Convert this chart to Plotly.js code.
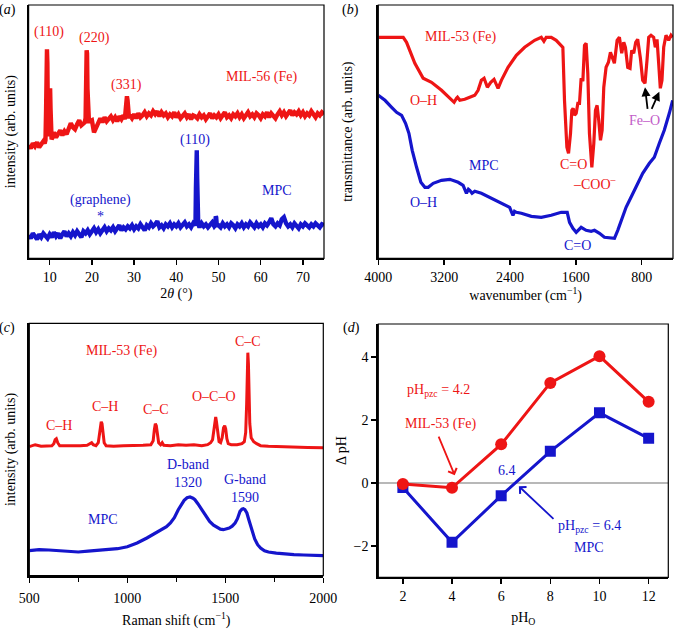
<!DOCTYPE html>
<html>
<head>
<meta charset="utf-8">
<script src="https://cdn.plot.ly/plotly-3.0.1.min.js"></script>
<style>html,body{margin:0;padding:0;background:#fff;}#chart{width:675px;height:629px;}</style>
</head>
<body>
<div id="chart"></div>
<script>
// ---------- DATA ----------
// (a) XRD, base grid from 5° to 75° every 0.5°
const xrdStart = 5, xrdStep = 0.5;
const xrdRedBase = [
 113,110,115,112,116,111,114,117,115,114,
 120,122,126,121,125,128,123,127,124,129,
 135,131,129,134,138,133,136,134,139,137,
 138,126,131,137,140,136,141,137,139,142,
 138,141,137,142,139,143,140,138,143,140,
 144,140,145,141,143,146,142,145,143,147,
 144,147,142,146,143,145,141,144,142,146,
 141,144,140,143,145,141,144,139,143,142,
 140,144,141,143,139,142,145,140,143,141,
 144,140,143,146,141,143,140,144,142,145,
 141,144,140,143,146,142,144,141,145,143,
 140,144,142,146,141,145,143,140,144,147,
 143,146,142,145,148,143,146,144,147,143,
 146,142,145,143,147,144,141,145,143,146,
 144];
const xrdRedPeaks = [
 [[8.8,115],[9.0,118],[9.15,150],[9.25,200],[9.35,209],[9.45,195],[9.55,150],[9.7,122],[9.85,128],[10.0,160],[10.1,170],[10.2,150],[10.3,128],[10.45,119],[10.7,121]],
 [[18.3,136],[18.5,140],[18.65,185],[18.75,208],[18.85,205],[18.95,170],[19.1,141],[19.3,137]],
 [[27.8,139],[28.0,148],[28.15,160],[28.3,162],[28.45,158],[28.6,146],[28.8,140]]
];
const xrdBlueBase = [
 23,20,25,22,19,24,21,25,22,20,
 24,21,26,22,25,20,24,27,22,25,
 22,26,23,27,24,21,27,25,28,24,
 27,30,26,29,25,28,31,27,30,28,
 31,27,30,33,28,31,29,32,30,33,
 29,32,30,34,31,28,33,31,35,32,
 34,37,31,33,30,34,32,35,31,34,
 32,35,31,34,36,32,34,31,35,33,
 34,31,35,32,34,31,33,36,32,40,
 33,31,35,32,34,31,35,33,30,34,
 32,35,31,34,32,36,33,31,35,32,
 34,31,35,33,36,40,34,32,35,33,
 39,41,35,32,34,31,35,33,30,34,
 32,35,33,31,34,32,35,33,31,34,
 33];
const xrdBluePeaks = [
 [[44.4,33],[44.55,36],[44.65,70],[44.75,105],[44.85,108],[44.95,80],[45.05,40],[45.2,34]],
 [[49.2,33],[49.35,42],[49.45,41],[49.6,33]]
];

// (b) FTIR [wavenumber, transmittance]
const ftirRed = [[4000,221],[3697,221],[3657,216],[3556,195],[3455,180],[3354,176],[3232,168],[3131,160],[3079,156],[3050,160],[3038,161],[3010,158],[2950,159],[2889,161],[2828,163],[2788,168],[2748,178],[2715,180],[2675,171],[2634,176],[2594,179],[2545,170],[2505,178],[2424,191],[2323,203],[2222,211],[2101,218],[2020,221],[1988,217],[1960,221],[1899,221],[1839,218],[1758,211],[1738,158],[1709,111],[1689,105],[1665,125],[1649,148],[1633,150],[1616,143],[1596,145],[1576,155],[1556,155],[1536,180],[1515,177],[1495,213],[1475,215],[1455,185],[1435,125],[1406,91],[1382,115],[1362,148],[1342,153],[1322,138],[1301,118],[1281,128],[1261,171],[1233,191],[1204,196],[1180,206],[1152,200],[1132,195],[1099,218],[1071,221],[1043,205],[1018,216],[998,211],[970,191],[942,190],[922,208],[897,205],[873,216],[849,219],[816,200],[788,178],[760,175],[736,198],[715,221],[687,223],[655,221],[635,211],[614,219],[594,195],[574,170],[554,178],[533,211],[505,223],[473,218],[444,223],[424,221]];
const ftirBlue = [[4000,163],[3919,158],[3838,151],[3778,146],[3717,143],[3669,135],[3628,125],[3588,108],[3535,91],[3483,76],[3434,71],[3394,71],[3333,75],[3232,78],[3131,79],[3030,76],[2970,73],[2940,66],[2929,65],[2905,69],[2889,68],[2861,65],[2828,67],[2748,65],[2626,60],[2505,55],[2404,51],[2380,46],[2364,43],[2345,47],[2323,46],[2263,45],[2141,42],[2020,41],[1899,43],[1778,46],[1705,46],[1677,36],[1636,30],[1596,26],[1536,31],[1475,28],[1414,27],[1374,28],[1313,25],[1253,21],[1172,20],[1131,20],[1091,28],[1051,38],[990,51],[930,61],[869,71],[788,85],[707,95],[647,101],[586,115],[526,128],[465,145],[424,158]];

// (c) Raman [shift, intensity]
const ramanRed = [[500,129],[530,131],[560,129.5],[590,130],[615,130],[625,132],[632,136],[638,137],[645,133],[655,130],[680,130],[720,129.5],[760,130],[795,130.5],[810,132],[818,133],[826,131],[840,130],[852,133],[858,142],[863,151],[867,154],[871,152],[876,141],[882,133],[892,130],[930,129.5],[980,130],[1030,130],[1080,130.5],[1120,131],[1132,135],[1138,146],[1143,152],[1148,150],[1153,140],[1160,133],[1170,131],[1178,133],[1186,130.5],[1220,130],[1260,131],[1300,130.5],[1340,131],[1380,130],[1410,131],[1425,133],[1435,136],[1442,146],[1447,157],[1451,158.7],[1455,154],[1461,142],[1468,134],[1476,133],[1484,138],[1491,148],[1497,150],[1502,147],[1508,137],[1515,132],[1530,131],[1560,131],[1585,132],[1597,134],[1604,143],[1609,172],[1612,205],[1615,223],[1618,212],[1621,180],[1625,152],[1632,138],[1645,134],[1660,132],[1680,130],[1720,129.5],[1780,129],[1850,128.5],[1920,128.2],[2000,128]];
const ramanBlue = [[500,25],[550,26],[600,25.7],[650,25],[700,24.5],[750,23.7],[800,24.5],[850,25.5],[900,26],[950,27],[1000,29],[1050,32.7],[1100,37.7],[1150,43.3],[1180,46.7],[1200,49],[1220,52.7],[1240,58],[1260,66],[1275,71],[1290,75.3],[1305,78],[1320,78.7],[1335,77.5],[1345,76],[1360,72],[1380,66],[1400,60],[1420,54.3],[1440,50.5],[1460,47.7],[1475,46.5],[1490,46],[1505,46.5],[1520,47.7],[1535,49.5],[1550,52.7],[1562,57],[1575,64.3],[1585,66.5],[1592,67],[1600,66],[1610,62.7],[1620,56],[1630,49.3],[1640,42],[1650,36.7],[1665,31],[1680,27.7],[1700,25],[1720,23.7],[1760,22.5],[1800,21.7],[1850,21],[1900,20.7],[1950,20.3],[2000,20]];

// (d) pH drift
const pH0 = [2, 4, 6, 8, 10, 12];
const dpHMIL = [-0.04, -0.16, 1.22, 3.17, 4.02, 2.57];
const dpHMPC = [-0.15, -1.89, -0.41, 1.0, 2.22, 1.41];

// tick labels
const xrdTicks = [10, 20, 30, 40, 50, 60, 70];
const ftirTicks = [4000, 3200, 2400, 1600, 800];
const ramanTicks = [500, 1000, 1500, 2000];
const pHTicks = [2, 4, 6, 8, 10, 12];
const dpHTicks = [-2, 0, 2, 4];

// ---------- BUILD ----------
const RED = '#ee1515', BLUE = '#1515cc', PURPLE = '#c25bc8';
const serif = 'Liberation Serif, Times New Roman, serif';

function withPeaks(x0, step, base, peaks) {
  let pts = base.map((v, i) => [x0 + step * i, v]);
  peaks.forEach(p => {
    const lo = p[0][0], hi = p[p.length - 1][0];
    pts = pts.filter(q => q[0] < lo || q[0] > hi).concat(p);
  });
  pts.sort((a, b) => a[0] - b[0]);
  return pts;
}
const col = (arr, i) => arr.map(p => p[i]);
const xrdRed = withPeaks(xrdStart, xrdStep, xrdRedBase, xrdRedPeaks);
const xrdBlue = withPeaks(xrdStart, xrdStep, xrdBlueBase, xrdBluePeaks);

function line(pts, color, w, xa, ya) {
  return {x: col(pts, 0), y: col(pts, 1), xaxis: xa, yaxis: ya, mode: 'lines',
    line: {color: color, width: w}, hoverinfo: 'skip'};
}

const traces = [
  line(xrdRed, RED, 4.4, 'x', 'y'),
  line(xrdBlue, BLUE, 4.4, 'x', 'y'),
  line(ftirRed, RED, 3.2, 'x2', 'y2'),
  line(ftirBlue, BLUE, 3.2, 'x2', 'y2'),
  line(ramanRed, RED, 3, 'x3', 'y3'),
  line(ramanBlue, BLUE, 3.2, 'x3', 'y3'),
  {x: pH0, y: dpHMPC, xaxis: 'x4', yaxis: 'y4', mode: 'lines+markers',
   line: {color: BLUE, width: 3}, marker: {symbol: 'square', size: 11, color: BLUE}},
  {x: pH0, y: dpHMIL, xaxis: 'x4', yaxis: 'y4', mode: 'lines+markers',
   line: {color: RED, width: 3}, marker: {symbol: 'circle', size: 12, color: RED}}
];

const tf = {family: serif, size: 14, color: '#000'};
function ax(o) {
  return Object.assign({showline: true, linecolor: '#000', linewidth: 2, ticks: 'outside',
    ticklen: 5, tickwidth: 1.5, tickcolor: '#000', showgrid: false, zeroline: false,
    tickfont: tf, fixedrange: true}, o);
}
function yNo(o) { return ax(Object.assign({showticklabels: false, ticks: ''}, o)); }

function ann(text, x, y, xr, yr, color, extra) {
  return Object.assign({text: text, x: x, y: y, xref: xr, yref: yr, showarrow: false,
    font: {family: serif, size: 14, color: color}, xanchor: 'center', yanchor: 'middle'}, extra || {});
}
function arrow(x, y, axx, ayy, xr, yr, color, head) {
  return {text: '', x: x, y: y, ax: axx, ay: ayy, xref: xr, yref: yr, axref: xr, ayref: yr,
    showarrow: true, arrowhead: head, arrowsize: 1, arrowwidth: 1.8, arrowcolor: color};
}

const annotations = [
  // panel labels
  ann('(<i>a</i>)', 7/675, 1 - 10/629, 'paper', 'paper', '#000'),
  ann('(<i>b</i>)', 350/675, 1 - 10/629, 'paper', 'paper', '#000'),
  ann('(<i>c</i>)', 7/675, 1 - 328/629, 'paper', 'paper', '#000'),
  ann('(<i>d</i>)', 352/675, 1 - 328/629, 'paper', 'paper', '#000'),
  // (a)
  ann('(110)', 9.9, 226, 'x', 'y', RED),
  ann('(220)', 20.5, 220, 'x', 'y', RED),
  ann('(331)', 28.2, 173, 'x', 'y', RED),
  ann('MIL-56 (Fe)', 60.2, 181, 'x', 'y', RED),
  ann('(110)', 44.4, 118, 'x', 'y', BLUE),
  ann('MPC', 63.9, 68, 'x', 'y', BLUE),
  ann('(graphene)', 22.1, 58, 'x', 'y', BLUE),
  ann('*', 22.1, 42, 'x', 'y', BLUE),
  // (b)
  ann('MIL-53 (Fe)', 3002, 221.6, 'x2', 'y2', RED),
  ann('O–H', 3455, 158, 'x2', 'y2', RED),
  ann('MPC', 2715, 93, 'x2', 'y2', BLUE),
  ann('O–H', 3455, 55.6, 'x2', 'y2', BLUE),
  ann('C=O', 1624, 94, 'x2', 'y2', RED),
  ann('–COO<sup>–</sup>', 1374, 75.6, 'x2', 'y2', RED),
  ann('Fe–O', 768, 138, 'x2', 'y2', PURPLE),
  ann('C=O', 1576, 13, 'x2', 'y2', BLUE),
  arrow(760, 171, 727, 148, 'x2', 'y2', '#000', 2),
  arrow(586, 166.6, 687, 148, 'x2', 'y2', '#000', 2),
  // (c)
  ann('MIL-53 (Fe)', 971, 224.3, 'x3', 'y3', RED),
  ann('C–H', 653, 150, 'x3', 'y3', RED),
  ann('C–H', 886, 169, 'x3', 'y3', RED),
  ann('C–C', 1146, 166, 'x3', 'y3', RED),
  ann('O–C–O', 1443, 179, 'x3', 'y3', RED),
  ann('C–C', 1617, 234, 'x3', 'y3', RED),
  ann('D-band<br>1320', 1311, 102, 'x3', 'y3', BLUE),
  ann('G-band<br>1590', 1600, 87, 'x3', 'y3', BLUE),
  ann('MPC', 874, 56.7, 'x3', 'y3', BLUE),
  // (d)
  ann('pH<sub>pzc</sub> = 4.2', 3.43, 2.94, 'x4', 'y4', RED),
  ann('MIL-53 (Fe)', 3.55, 1.88, 'x4', 'y4', RED),
  arrow(4.11, 0.24, 3.43, 1.51, 'x4', 'y4', RED, 4),
  ann('6.4', 6.22, 0.40, 'x4', 'y4', BLUE),
  arrow(6.72, -0.11, 8.19, -1.19, 'x4', 'y4', BLUE, 4),
  ann('pH<sub>pzc</sub> = 6.4', 9.58, -1.38, 'x4', 'y4', BLUE),
  ann('MPC', 9.58, -2.05, 'x4', 'y4', BLUE)
];

function box(xr, yr) {
  return {type: 'rect', xref: xr + ' domain', yref: yr + ' domain', x0: 0, x1: 1, y0: 0, y1: 1,
    line: {color: '#000', width: 1.2}, fillcolor: 'rgba(0,0,0,0)'};
}

const ttl = (t, s) => ({text: t, font: tf, standoff: s});

const layout = {
  width: 675, height: 629, margin: {l: 0, r: 0, t: 0, b: 0},
  paper_bgcolor: '#fff', plot_bgcolor: '#fff', showlegend: false, hovermode: false,
  font: {family: serif, size: 14, color: '#000'},
  xaxis: ax({domain: [28.6/675, 324/675], range: [5, 75], tickvals: xrdTicks, anchor: 'y',
    title: ttl('2<i>θ</i> (°)', 4)}),
  yaxis: yNo({domain: [1 - 258.3/629, 1 - 5/629], range: [0, 253.3], anchor: 'x',
    title: ttl('intensity (arb. units)', 8)}),
  xaxis2: ax({domain: [378.3/675, 673/675], range: [4000, 420], tickvals: ftirTicks, anchor: 'y2',
    title: ttl('wavenumber (cm<sup>−1</sup>)', 4)}),
  yaxis2: yNo({domain: [1 - 258.3/629, 1 - 5/629], range: [0, 253.3], anchor: 'x2',
    title: ttl('transmittance (arb. units)', 20)}),
  xaxis3: ax({domain: [29.3/675, 323.3/675], range: [500, 2000], tickvals: ramanTicks, anchor: 'y3',
    ticklabelstandoff: 3,
    minor: {tickvals: [750, 1250, 1750], ticks: 'outside', ticklen: 4, tickwidth: 1.5, tickcolor: '#000'},
    title: ttl('Raman shift (cm<sup>−1</sup>)', 14)}),
  yaxis3: yNo({domain: [1 - 575.7/629, 1 - 323.3/629], range: [0, 252.4], anchor: 'x3',
    title: ttl('intensity (arb. units)', 8)}),
  xaxis4: ax({domain: [378.3/675, 668.3/675], range: [1, 12.8], tickvals: pHTicks, anchor: 'y4',
    title: ttl('pH<sub>O</sub>', 9)}),
  yaxis4: ax({domain: [1 - 577.3/629, 1 - 324/629], range: [-3, 5.04], tickvals: dpHTicks, anchor: 'x4',
    zeroline: true, zerolinecolor: '#b8b8b8', zerolinewidth: 2,
    title: ttl('Δ pH', 4)}),
  annotations: annotations,
  shapes: [box('x', 'y'), box('x2', 'y2'), box('x3', 'y3'), box('x4', 'y4')]
};

Plotly.newPlot('chart', traces, layout, {displayModeBar: false, staticPlot: true});
</script>
</body>
</html>
